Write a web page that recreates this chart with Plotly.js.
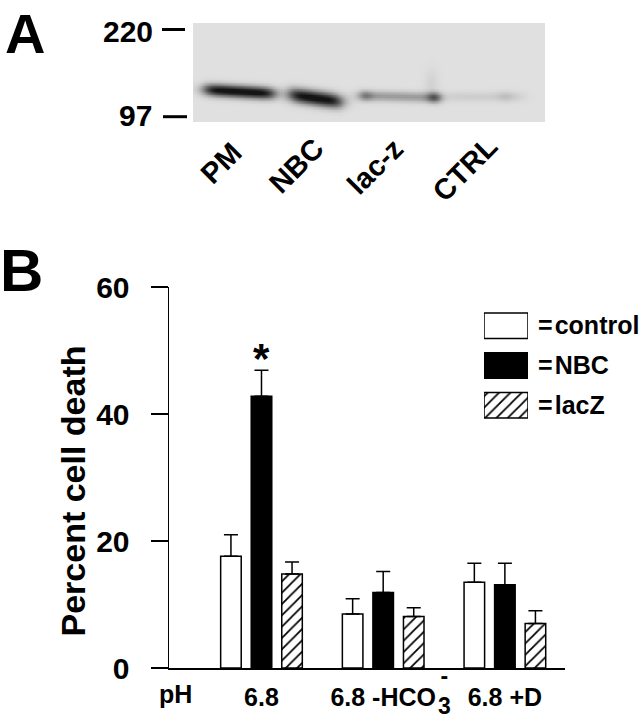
<!DOCTYPE html>
<html>
<head>
<meta charset="utf-8">
<script src="https://cdn.plot.ly/plotly-3.0.1.min.js"></script>
<style>
  html, body { margin: 0; padding: 0; background: #fff; }
  #chart { width: 641px; height: 719px; }
</style>
</head>
<body>
<div id="chart"></div>
<script>
// ---------------- DATA ----------------
// Panel B: percent cell death
const categories = ['6.8', '6.8 -HCO3', '6.8 +D'];
const tickLabels = ['6.8', '6.8 -HCO', '6.8 +D'];
const seriesNames = ['control', 'NBC', 'lacZ'];
const controlValues = [17.6, 8.5, 13.5];
const controlErr = [3.4, 2.4, 3.0];
const nbcValues = [42.8, 11.9, 13.1];
const nbcErr = [4.1, 3.3, 3.4];
const lacZValues = [14.8, 8.1, 7.0];
const lacZErr = [1.9, 1.4, 2.0];
const yTicks = [0, 20, 40, 60];

// Panel A: western blot
const lanes = ['PM', 'NBC', 'lac-z', 'CTRL'];
const bandDensity = [1.0, 1.0, 0.30, 0.08];
const mwMarkers = ['220', '97'];

// ---------------- BLOT IMAGE MODEL ----------------
const W = 641, H = 719;
const px = v => v / W;
const py = v => (H - v) / H;
const FONT = 'Liberation Sans, Arial, Helvetica, sans-serif';

// geometry of each lane's band in blot-local pixels (style, not data)
const bandGeom = [
  {x0: 12, x1: 80, yl: 66, yr: 70, sy: 4.2, spots: []},
  {x0: 97, x1: 147, yl: 71, yr: 78, sy: 5.0, spots: []},
  {x0: 166, x1: 246, yl: 72, yr: 74, sy: 3.6, spots: [{x: 172, a: 0.22, s: 5}, {x: 241, a: 0.40, s: 5}]},
  {x0: 255, x1: 330, yl: 73, yr: 73, sy: 3.6, spots: [{x: 312, a: 0.07, s: 6}]}
];
const sig = t => 1 / (1 + Math.exp(-t));
const bx = [], by = [];
for (let x = 0; x <= 352; x += 3) bx.push(x);
for (let y = 0; y <= 99; y += 1.5) by.push(y);
const z = by.map(y => bx.map(x => {
  let v = 0.07;
  bandGeom.forEach((g, i) => {
    const d = bandDensity[i];
    const t = (x - g.x0) / (g.x1 - g.x0);
    const yc = g.yl + (g.yr - g.yl) * Math.min(1, Math.max(0, t));
    const gy = Math.exp(-0.5 * Math.pow((y - yc) / g.sy, 2));
    const gx = sig((x - g.x0) / 4) * sig((g.x1 - x) / 4);
    v += d * gx * gy;
    g.spots.forEach(s => {
      v += s.a * Math.exp(-0.5 * Math.pow((x - s.x) / s.s, 2)) * gy;
    });
  });
  // faint smear above lac-z right end
  v += 0.06 * Math.exp(-0.5 * Math.pow((x - 238) / 5, 2)) * Math.exp(-0.5 * Math.pow((y - 60) / 10, 2));
  return Math.min(1, v);
}));

// ---------------- TRACES ----------------
const errStyle = {type: 'data', symmetric: false, color: '#000', thickness: 1.5, width: 7, visible: true};
const zeros = categories.map(() => 0);
const hatch = {shape: '/', fgcolor: '#000', bgcolor: '#fff', size: 8, solidity: 0.22};
const edge = {color: '#000', width: 1.5};

const traces = [
  {
    type: 'bar', name: seriesNames[0], x: categories, y: controlValues,
    marker: {color: '#fff', line: edge},
    error_y: Object.assign({array: controlErr, arrayminus: zeros}, errStyle),
    xaxis: 'x', yaxis: 'y', hoverinfo: 'skip'
  },
  {
    type: 'bar', name: seriesNames[1], x: categories, y: nbcValues,
    marker: {color: '#000', line: edge},
    error_y: Object.assign({array: nbcErr, arrayminus: zeros}, errStyle),
    xaxis: 'x', yaxis: 'y', hoverinfo: 'skip'
  },
  {
    type: 'bar', name: seriesNames[2], x: categories, y: lacZValues,
    marker: {color: '#fff', line: edge, pattern: hatch},
    error_y: Object.assign({array: lacZErr, arrayminus: zeros}, errStyle),
    xaxis: 'x', yaxis: 'y', hoverinfo: 'skip'
  },
  // legend swatches
  {type: 'bar', orientation: 'h', x: [1], y: [2], width: 0.64, offset: -0.32,
    marker: {color: '#fff', line: edge}, xaxis: 'x3', yaxis: 'y3', hoverinfo: 'skip', cliponaxis: false},
  {type: 'bar', orientation: 'h', x: [1], y: [1], width: 0.64, offset: -0.32,
    marker: {color: '#000', line: edge}, xaxis: 'x3', yaxis: 'y3', hoverinfo: 'skip', cliponaxis: false},
  {type: 'bar', orientation: 'h', x: [1], y: [0], width: 0.64, offset: -0.32,
    marker: {color: '#fff', line: edge, pattern: hatch}, xaxis: 'x3', yaxis: 'y3', hoverinfo: 'skip', cliponaxis: false},
  // blot
  {
    type: 'heatmap', x: bx, y: by, z: z, zmin: 0, zmax: 1, zsmooth: 'best',
    colorscale: [[0, 'rgb(240,240,240)'], [0.5, 'rgb(125,125,125)'], [1, 'rgb(20,20,20)']],
    showscale: false, hoverinfo: 'skip', xaxis: 'x2', yaxis: 'y2'
  }
];

// ---------------- LAYOUT ----------------
const ann = (text, x, y, size, extra) => Object.assign({
  text: text, x: px(x), y: py(y), xref: 'paper', yref: 'paper', showarrow: false,
  xanchor: 'center', yanchor: 'middle', font: {family: FONT, size: size, color: '#000', weight: 'bold'}
}, extra || {});

const annotations = [
  ann('A', 25, 33, 56),
  ann('B', 21, 270, 60),
  ann(mwMarkers[0], 128, 31, 30),
  ann(mwMarkers[1], 135.5, 116, 30),
  ann(lanes[0], 221, 162.5, 29, {textangle: -45}),
  ann(lanes[1], 296, 166, 29, {textangle: -45}),
  ann(lanes[2], 374.5, 167, 29, {textangle: -45}),
  ann(lanes[3], 464.5, 168.5, 29, {textangle: -45}),
  ann('Percent cell death', 73, 491.5, 34, {textangle: -90}),
  ann('*', 261.5, 358, 42),
  ann('pH', 175, 694, 25),
  ann('-<br>3', 444, 691, 23),
  ann('=\u200A' + seriesNames[0], 536, 325, 25, {xanchor: 'left'}),
  ann('=\u200A' + seriesNames[1], 536, 365.5, 25, {xanchor: 'left'}),
  ann('=\u200A' + seriesNames[2], 536, 405, 25, {xanchor: 'left'})
];

const shapes = [
  {type: 'line', xref: 'paper', yref: 'paper', x0: px(162), x1: px(185), y0: py(29.5), y1: py(29.5), line: {color: '#000', width: 3}},
  {type: 'line', xref: 'paper', yref: 'paper', x0: px(163), x1: px(187), y0: py(116.7), y1: py(116.7), line: {color: '#000', width: 3}}
];

const layout = {
  width: W, height: H,
  margin: {l: 0, r: 0, t: 0, b: 0},
  paper_bgcolor: '#fff', plot_bgcolor: 'rgba(0,0,0,0)',
  showlegend: false,
  barmode: 'group', bargap: 0.247, bargroupgap: 0.327,
  font: {family: FONT, color: '#000'},
  xaxis: {
    domain: [px(169), px(565)], anchor: 'y',
    type: 'category', range: [-0.76, 2.494],
    tickvals: categories, ticktext: tickLabels,
    showline: true, linecolor: '#000', linewidth: 1.5,
    ticks: '', showgrid: false, zeroline: false, fixedrange: true,
    tickfont: {family: FONT, size: 25, color: '#000', weight: 'bold'},
    ticklabelstandoff: 6
  },
  yaxis: {
    domain: [py(668), py(287)], anchor: 'x',
    range: [0, 60], tickvals: yTicks,
    showline: true, linecolor: '#000', linewidth: 1.5,
    ticks: 'outside', ticklen: 17, tickwidth: 1.5, tickcolor: '#000',
    showgrid: false, zeroline: false, fixedrange: true,
    tickfont: {family: FONT, size: 30, color: '#000', weight: 'bold'},
    ticklabelstandoff: 15
  },
  xaxis2: {domain: [px(193), px(545)], anchor: 'y2', range: [0, 352], visible: false, fixedrange: true},
  yaxis2: {domain: [py(122), py(23)], anchor: 'x2', range: [99, 0], visible: false, fixedrange: true},
  xaxis3: {domain: [px(484), px(528)], anchor: 'y3', range: [0, 1], visible: false, fixedrange: true},
  yaxis3: {domain: [py(425.1), py(305.9)], anchor: 'x3', range: [-0.5, 2.5], visible: false, fixedrange: true},
  annotations: annotations,
  shapes: shapes
};

Plotly.newPlot('chart', traces, layout, {staticPlot: true, displayModeBar: false});
</script>
</body>
</html>
